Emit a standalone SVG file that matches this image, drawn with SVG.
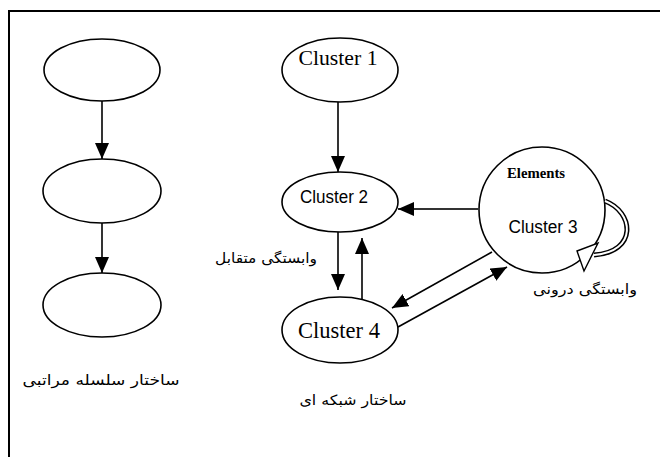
<svg xmlns="http://www.w3.org/2000/svg" width="660" height="457" viewBox="0 0 660 457">
<style>
.node{fill:#fff;stroke:#000;stroke-width:1.6}
.edge{stroke:#000;stroke-width:1.6;fill:none}
.lat{font-family:"Liberation Serif",serif;fill:#000}
.sans{font-family:"Liberation Sans",sans-serif;fill:#000}
.fa{font-family:"DejaVu Sans","Noto Sans",sans-serif;fill:#000;font-size:14px}
</style>
<defs>
<marker id="ah" markerUnits="userSpaceOnUse" markerWidth="16" markerHeight="14" refX="16" refY="7" orient="auto">
<path d="M0,0 L16,7 L0,14 z" fill="#000"/>
</marker>
</defs>
<rect width="660" height="457" fill="#fff"/>
<path d="M9,457 L9,11 L660,11" fill="none" stroke="#000" stroke-width="2"/>

<g id="h1"><ellipse class="node" cx="102" cy="70" rx="58" ry="31"/></g>
<g id="h2"><ellipse class="node" cx="102" cy="191" rx="59" ry="32"/></g>
<g id="h3"><ellipse class="node" cx="102" cy="305" rx="59" ry="32"/></g>

<g id="cluster1">
<ellipse class="node" cx="340" cy="70" rx="58" ry="32"/>
<text class="lat" x="338" y="65" font-size="21" text-anchor="middle" textLength="79" lengthAdjust="spacingAndGlyphs">Cluster 1</text>
</g>
<g id="cluster2">
<ellipse class="node" cx="340" cy="202" rx="58" ry="30"/>
<text class="sans" x="334" y="203" font-size="18" text-anchor="middle" textLength="68" lengthAdjust="spacingAndGlyphs">Cluster 2</text>
</g>
<g id="cluster3">
<circle class="node" cx="542" cy="210" r="63"/>
<text class="lat" x="536" y="178" font-size="14" font-weight="bold" text-anchor="middle" textLength="58" lengthAdjust="spacingAndGlyphs">Elements</text>
<text class="sans" x="543" y="233" font-size="18" text-anchor="middle" textLength="69" lengthAdjust="spacingAndGlyphs">Cluster 3</text>
</g>
<g id="cluster4">
<ellipse class="node" cx="340" cy="330" rx="58" ry="33"/>
<text class="lat" x="339" y="338" font-size="23" text-anchor="middle" textLength="82" lengthAdjust="spacingAndGlyphs">Cluster 4</text>
</g>

<g id="connectors">
<line class="edge" x1="102" y1="101" x2="102" y2="159" marker-end="url(#ah)"/>
<line class="edge" x1="102" y1="223" x2="102" y2="273" marker-end="url(#ah)"/>
<line class="edge" x1="338" y1="102" x2="338" y2="172" marker-end="url(#ah)"/>
<line x1="480" y1="209" x2="398" y2="209" stroke="#333" stroke-width="2.2" marker-end="url(#ah)"/>
<line class="edge" x1="338" y1="232" x2="338" y2="290" marker-end="url(#ah)"/>
<line class="edge" x1="362" y1="299" x2="362" y2="238" marker-end="url(#ah)"/>
<line class="edge" x1="492" y1="252" x2="392" y2="308" marker-end="url(#ah)"/>
<line class="edge" x1="398" y1="327" x2="507" y2="267" marker-end="url(#ah)"/>
<path d="M605,201 C634,212 638,252 594,255" fill="none" stroke="#000" stroke-width="5"/>
<path d="M605,201 C634,212 638,252 594,255" fill="none" stroke="#fff" stroke-width="2"/>
<polygon points="577,251 598,243 584,271" fill="#fff" stroke="#000" stroke-width="1.4"/>
</g>

<g id="labels">
<text class="fa" x="266" y="263" text-anchor="middle" textLength="102" lengthAdjust="spacingAndGlyphs">وابستگی متقابل</text>
<text class="fa" x="585" y="294" text-anchor="middle" textLength="104" lengthAdjust="spacingAndGlyphs">وابستگی درونی</text>
<text class="fa" x="101" y="385" text-anchor="middle" textLength="157" lengthAdjust="spacingAndGlyphs">ساختار سلسله مراتبی</text>
<text class="fa" x="353" y="405" text-anchor="middle" textLength="107" lengthAdjust="spacingAndGlyphs">ساختار شبکه ای</text>
</g>
</svg>
